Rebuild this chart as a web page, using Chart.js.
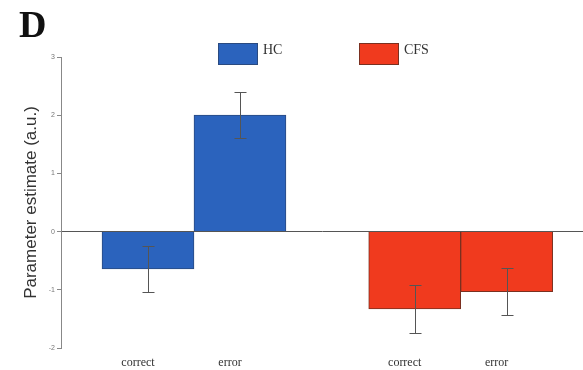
<!DOCTYPE html>
<html>
<head>
<meta charset="utf-8">
<script src="https://cdn.jsdelivr.net/npm/chart.js@4/dist/chart.umd.min.js"></script>
<style>
  body { margin: 0; background: #fff; }
  #grafico { display: block; }
</style>
</head>
<body>
<canvas id="grafico" width="583" height="370"></canvas>
<script>
// datos
const condiciones = ['correct', 'error', 'correct', 'error'];
const posiciones = [1, 2, 3.9, 4.9];
const grupos = ['HC', 'CFS'];
const mediaHC = [-0.64, 2.00];
const errorHC = [0.40, 0.40];
const mediaCFS = [-1.33, -1.03];
const errorCFS = [0.41, 0.40];
const ticksY = [-2, -1, 0, 1, 2, 3];

const colores = ['#2b63bd', '#f03a1e'];
const bordes = ['#2a4a80', '#7a3020'];

const errores = [errorHC, errorCFS];

// barras de error con la escala del grafico
const barrasError = {
    id: 'barrasError',
    afterDatasetsDraw(chart) {
        const ctx = chart.ctx;
        const y = chart.scales.y;
        ctx.save();
        ctx.strokeStyle = '#555';
        ctx.lineWidth = 1;
        chart.data.datasets.forEach((ds, i) => {
            const meta = chart.getDatasetMeta(i);
            meta.data.forEach((barra, j) => {
                const v = ds.data[j].y;
                const e = errores[i][j];
                const yArriba = Math.round(y.getPixelForValue(v + e)) + 0.5;
                const yAbajo = Math.round(y.getPixelForValue(v - e)) + 0.5;
                const x = Math.round(barra.x) + 0.5;
                ctx.beginPath();
                ctx.moveTo(x, yArriba);
                ctx.lineTo(x, yAbajo);
                ctx.moveTo(x - 6, yArriba);
                ctx.lineTo(x + 6, yArriba);
                ctx.moveTo(x - 6, yAbajo);
                ctx.lineTo(x + 6, yAbajo);
                ctx.stroke();
            });
        });
        ctx.restore();
    }
};

// leyenda y letra del panel
const leyenda = {
    id: 'leyenda',
    afterDraw(chart) {
        const ctx = chart.ctx;
        ctx.save();
        ctx.fillStyle = '#111';
        ctx.font = 'bold 38px "Liberation Serif", serif';
        ctx.textBaseline = 'alphabetic';
        ctx.fillText('D', 19, 37);

        const xs = [218, 359];
        ctx.font = '14px "Liberation Serif", serif';
        ctx.textBaseline = 'middle';
        grupos.forEach((g, i) => {
            ctx.fillStyle = colores[i];
            ctx.fillRect(xs[i], 43, 40, 22);
            ctx.strokeStyle = bordes[i];
            ctx.lineWidth = 1;
            ctx.strokeRect(xs[i] + 0.5, 43.5, 39, 21);
            ctx.fillStyle = '#333';
            ctx.fillText(g, xs[i] + 45, 50);
        });
        ctx.restore();
    }
};

new Chart(document.getElementById('grafico'), {
    type: 'bar',
    data: {
        datasets: [{
            label: grupos[0],
            data: mediaHC.map((v, i) => ({ x: posiciones[i], y: v })),
            backgroundColor: colores[0],
            borderColor: bordes[0],
            borderWidth: 1,
            grouped: false,
            barPercentage: 1,
            categoryPercentage: 1
        }, {
            label: grupos[1],
            data: mediaCFS.map((v, i) => ({ x: posiciones[i + 2], y: v })),
            backgroundColor: colores[1],
            borderColor: bordes[1],
            borderWidth: 1,
            grouped: false,
            barPercentage: 1,
            categoryPercentage: 1
        }]
    },
    options: {
        responsive: false,
        animation: false,
        layout: { padding: { top: 57, right: 0, bottom: 0, left: 0 } },
        plugins: {
            legend: { display: false },
            tooltip: { enabled: false }
        },
        scales: {
            x: {
                type: 'linear',
                min: 0.054,
                max: 5.73,
                offset: false,
                afterBuildTicks(scale) {
                    scale.ticks = posiciones.map(p => ({ value: p }));
                },
                afterFit(scale) { scale.height = 22; },
                grid: { display: false, drawTicks: false, offset: false },
                border: { display: false },
                ticks: {
                    autoSkip: false,
                    maxRotation: 0,
                    padding: 8,
                    labelOffset: -10,
                    color: '#333',
                    font: { family: '"Liberation Serif", serif', size: 12 },
                    callback: (v, i) => condiciones[i]
                }
            },
            y: {
                min: -2,
                max: 3,
                afterBuildTicks(scale) {
                    scale.ticks = ticksY.map(t => ({ value: t }));
                },
                afterFit(scale) { scale.width = 61; },
                border: { display: true, color: '#888', width: 1 },
                grid: {
                    color: c => c.tick.value === 0 ? '#555' : 'rgba(0,0,0,0)',
                    tickColor: '#888',
                    tickLength: 4,
                    lineWidth: 1
                },
                ticks: {
                    color: '#777',
                    padding: 2,
                    font: { family: '"Liberation Sans", sans-serif', size: 7 }
                },
                title: {
                    display: true,
                    text: 'Parameter estimate (a.u.)',
                    color: '#333',
                    padding: { top: 21, bottom: 0 },
                    font: { family: '"Liberation Sans", sans-serif', size: 17 }
                }
            }
        }
    },
    plugins: [barrasError, leyenda]
});
</script>
</body>
</html>
